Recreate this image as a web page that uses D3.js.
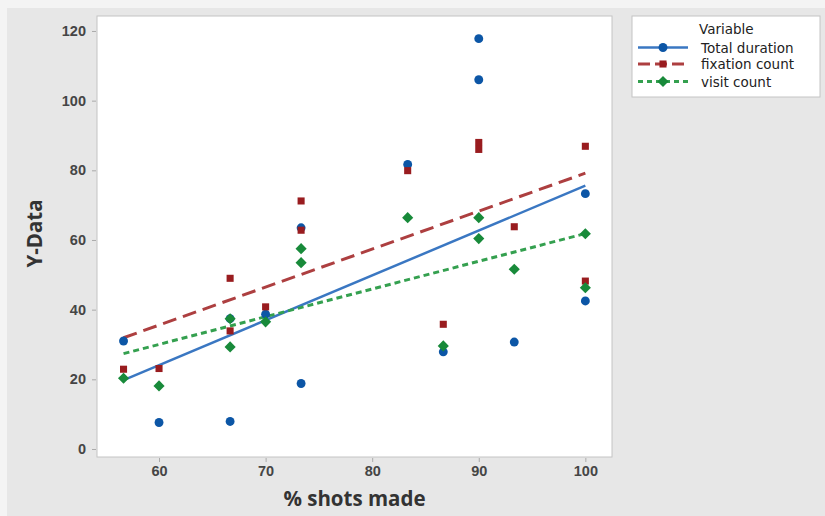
<!DOCTYPE html>
<html>
<head>
  <meta charset="UTF-8">
  <title></title>
  <style>
    body{
      margin: 0;
      background: #f4f4f4;
      font-family: 'Open Sans', sans-serif;
    }
    .axis text{
      font-size: 14.5px;
      font-weight: 700;
      fill: #454545;
    }
    .axis line{
      stroke: #aaa;
    }
    .axis path{
      display: none;
    }
    .axis_title{
      font-size: 20.5px;
      font-weight: 700;
      fill: #333;
      text-anchor: middle;
    }
    .legend text{
      font-family: 'DejaVu Sans', sans-serif;
      font-size: 13.5px;
      fill: #222;
    }
  </style>
</head>
<body>
  <script src="https://cdnjs.cloudflare.com/ajax/libs/d3/7.8.5/d3.min.js"></script>
  <script>
/// data

var shotsMade = [56.67, 60, 66.67, 66.67, 70, 73.33, 73.33, 83.33, 86.67, 90, 90, 93.33, 100, 100];
var totalDuration = [31, 7.6, 7.9, 37.4, 38.7, 63.5, 18.8, 81.7, 27.9, 117.8, 106, 30.7, 73.3, 42.5];
var fixationCount = [22.9, 23.1, 49, 33.9, 40.8, 71.2, 62.8, 79.9, 35.8, 88, 86, 63.8, 86.9, 48.2];
var visitCount = [20.3, 18.1, 37.4, 29.3, 36.5, 57.5, 53.5, 66.4, 29.6, 66.4, 60.4, 51.6, 61.8, 46.3];
var seriesNames = ["Total duration", "fixation count", "visit count"];
var xTicks = [60, 70, 80, 90, 100];
var yTicks = [0, 20, 40, 60, 80, 100, 120];

/// params

var series = [
  {name: seriesNames[0], values: totalDuration, marker: "#0c56a6", line: "#3a77c2", dash: null, legendDash: null, width: 2.5, shape: d3.symbolCircle, size: 62, rot: 0},
  {name: seriesNames[1], values: fixationCount, marker: "#991c1f", line: "#ad3f40", dash: "14,7", legendDash: "12,5", width: 3, shape: d3.symbolSquare, size: 50, rot: 0},
  {name: seriesNames[2], values: visitCount, marker: "#188a3a", line: "#34a04f", dash: "6,4", legendDash: "5,4", width: 3, shape: d3.symbolSquare, size: 62, rot: 45}
];

var width = 825, height = 516;
var plot = {left: 97, right: 612, top: 16, bottom: 457};

var svg = d3.select("body").append("svg")
    .attr("width", width)
    .attr("height", height);

// background
svg.append("rect")
    .attr("x", 7).attr("y", 8)
    .attr("width", width - 7).attr("height", height - 8)
    .attr("fill", "#e7e7e7");

svg.append("rect")
    .attr("x", plot.left).attr("y", plot.top)
    .attr("width", plot.right - plot.left).attr("height", plot.bottom - plot.top)
    .attr("fill", "#fff")
    .attr("stroke", "#c4c4c4");

var x = d3.scaleLinear().domain([54.18, 102.5]).range([plot.left, plot.right]);
var y = d3.scaleLinear().domain([-2.3, 124.3]).range([plot.bottom, plot.top]);

svg.append("g")
    .attr("class", "axis")
    .attr("transform", "translate(" + (plot.left - 1) + ",0)")
    .call(d3.axisLeft(y).tickValues(yTicks).tickSize(4).tickPadding(6));

svg.append("g")
    .attr("class", "axis")
    .attr("transform", "translate(0," + (plot.bottom + 1) + ")")
    .call(d3.axisBottom(x).tickValues(xTicks).tickSize(4).tickPadding(4));

svg.append("text")
    .attr("class", "axis_title")
    .attr("x", (plot.left + plot.right) / 2)
    .attr("y", 506)
    .text("% shots made");

svg.append("text")
    .attr("class", "axis_title")
    .attr("transform", "translate(42," + ((plot.top + plot.bottom) / 2 - 3) + ") rotate(-90)")
    .text("Y-Data");

// least squares fit
function fit(xs, ys) {
  var mx = d3.mean(xs), my = d3.mean(ys);
  var sxy = d3.sum(xs, function(v, i) { return (v - mx) * (ys[i] - my); });
  var sxx = d3.sum(xs, function(v) { return (v - mx) * (v - mx); });
  var b = sxy / sxx;
  return function(v) { return my + b * (v - mx); };
}

var xExt = d3.extent(shotsMade);
var line = d3.line().x(function(d) { return x(d[0]); }).y(function(d) { return y(d[1]); });

series.forEach(function(s) {
  var f = fit(shotsMade, s.values);
  svg.append("path")
      .attr("d", line(xExt.map(function(v) { return [v, f(v)]; })))
      .attr("fill", "none")
      .attr("stroke", s.line)
      .attr("stroke-width", s.width)
      .attr("stroke-dasharray", s.dash);
});

series.forEach(function(s) {
  svg.append("g").selectAll("path")
      .data(s.values)
      .enter().append("path")
        .attr("transform", function(d, i) { return "translate(" + x(shotsMade[i]) + "," + y(d) + ") rotate(" + s.rot + ")"; })
        .attr("d", d3.symbol().type(s.shape).size(s.size))
        .attr("fill", s.marker);
});

// legend
var legend = svg.append("g").attr("class", "legend");
legend.append("rect")
    .attr("x", 632).attr("y", 16)
    .attr("width", 188).attr("height", 81)
    .attr("fill", "#fff")
    .attr("stroke", "#c4c4c4");
legend.append("text").attr("x", 699).attr("y", 34).text("Variable");

var rowsY = [47.5, 64, 81.5];
series.forEach(function(s, i) {
  var g = legend.append("g").attr("transform", "translate(0," + rowsY[i] + ")");
  g.append("line")
      .attr("x1", 638).attr("x2", 688)
      .attr("stroke", s.line)
      .attr("stroke-width", s.width)
      .attr("stroke-dasharray", s.legendDash);
  g.append("path")
      .attr("transform", "translate(663,0) rotate(" + s.rot + ")")
      .attr("d", d3.symbol().type(s.shape).size(s.size))
      .attr("fill", s.marker);
  g.append("text").attr("x", 701).attr("y", 5).text(s.name);
});
  </script>
</body>
</html>
